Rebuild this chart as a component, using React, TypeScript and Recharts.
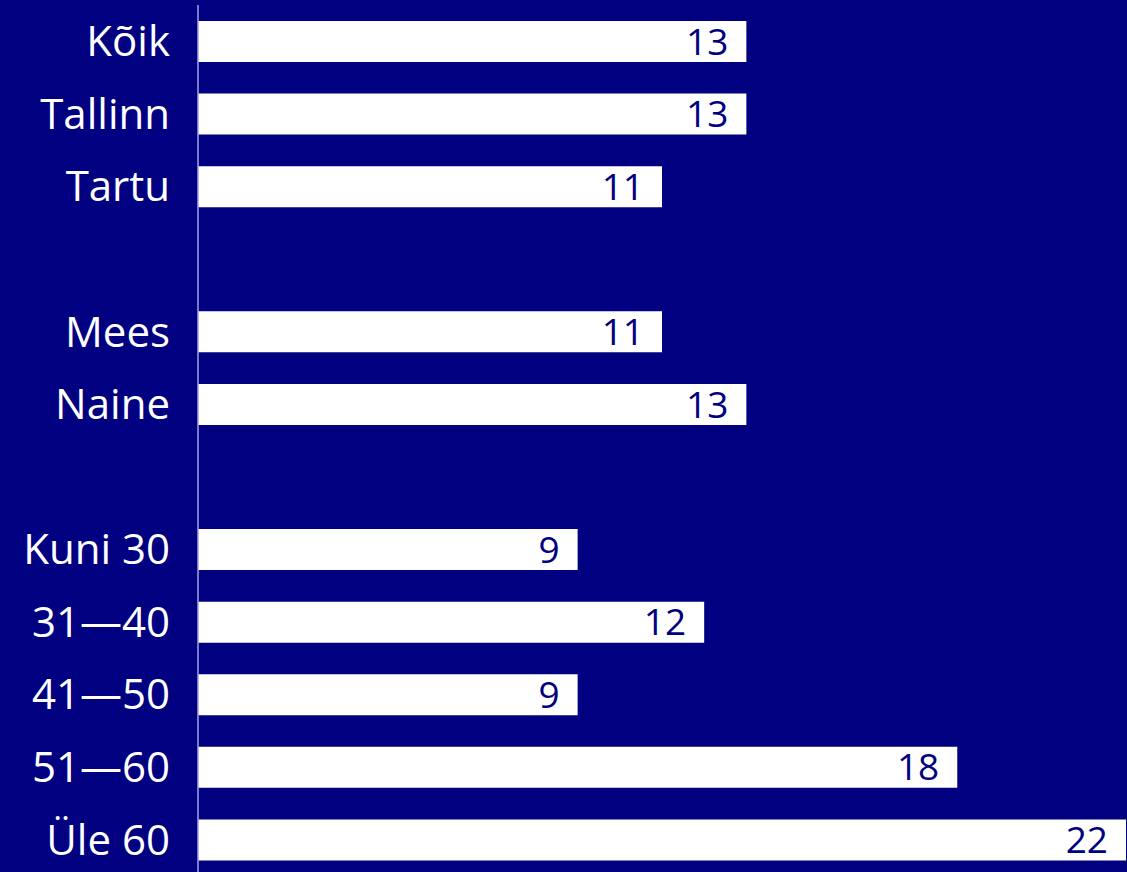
import React from "react";
import { BarChart, Bar, XAxis, YAxis, LabelList } from "recharts";

const categories = ["Kõik", "Tallinn", "Tartu", " ", "Mees", "Naine", "  ", "Kuni 30", "31—40", "41—50", "51—60", "Üle 60"];
const values: (number | null)[] = [13, 13, 11, null, 11, 13, null, 9, 12, 9, 18, 22];

const data = categories.map((name, i) => ({ name, value: values[i] }));

const NAVY = "#000080";

export default function App() {
  return (
    <div style={{ position: "absolute", left: 0, top: 0, width: 1127, height: 872, overflow: "hidden", background: NAVY }}>
      <BarChart
        layout="vertical"
        width={1127}
        height={876}
        data={data}
        margin={{ top: 5, right: 1, bottom: 0, left: 0 }}
        barSize={41}
      >
        <XAxis type="number" domain={[0, 22]} hide />
        <YAxis
          type="category"
          dataKey="name"
          width={198}
          tickLine={false}
          tickSize={0}
          tickMargin={28}
          axisLine={{ stroke: "#a3a3e6", strokeWidth: 1.5 }}
          tick={{ fill: "#ffffff", fontSize: 42, fontFamily: "Open Sans", fontWeight: 400 }}
          interval={0}
        />
        <Bar dataKey="value" fill="#ffffff" isAnimationActive={false}>
          <LabelList
            dataKey="value"
            position="insideRight"
            offset={18}
            fill={NAVY}
            style={{ fontSize: 37, fontFamily: "Open Sans", fontWeight: 400 }}
          />
        </Bar>
      </BarChart>
    </div>
  );
}
